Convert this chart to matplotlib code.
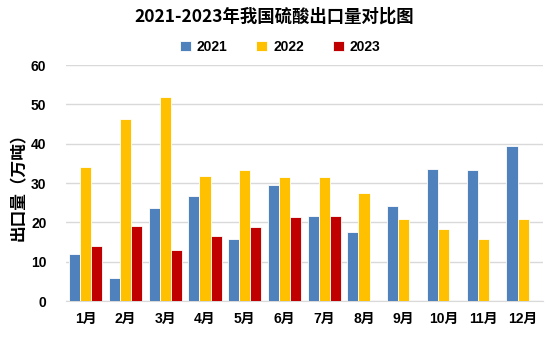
import matplotlib
matplotlib.use("Agg")
import matplotlib.pyplot as plt
import numpy as np

plt.rcParams['font.family'] = ['Liberation Sans', 'Noto Sans CJK SC', 'DejaVu Sans']

months = ["1月", "2月", "3月", "4月", "5月", "6月", "7月", "8月", "9月", "10月", "11月", "12月"]
s2021 = [12.0, 5.9, 23.6, 26.7, 15.8, 29.5, 21.6, 17.5, 24.2, 33.6, 33.3, 39.4]
s2022 = [34.1, 46.3, 51.9, 31.8, 33.3, 31.5, 31.5, 27.5, 20.8, 18.3, 15.8, 20.8]
s2023 = [14.0, 19.1, 13.0, 16.5, 18.8, 21.4, 21.6, np.nan, np.nan, np.nan, np.nan, np.nan]
series_names = ["2021", "2022", "2023"]
colors = ["#4F81BD", "#FFC000", "#C00000"]

fig = plt.figure(figsize=(5.49, 3.39), dpi=100)
ax = fig.add_axes([0.120, 0.112, 0.869, 0.696])

x = np.arange(len(months))
w = 0.28
for i, (vals, name, c) in enumerate(zip([s2021, s2022, s2023], series_names, colors)):
    ax.bar(x + (i - 1) * w, vals, width=w, color=c, edgecolor='white', linewidth=0.6, label=name, zorder=3)

ax.set_xlim(-0.5, len(months) - 0.5)
ax.set_ylim(0, 60)
ax.set_yticks(range(0, 61, 10))
ax.set_xticks(x)
ax.set_xticklabels(months)
ax.grid(axis='y', color='#D9D9D9', linewidth=1, zorder=0)
for sp in ['top', 'right', 'left']:
    ax.spines[sp].set_visible(False)
ax.spines['bottom'].set_color('#D9D9D9')
ax.tick_params(axis='both', length=0, labelsize=10)
ax.tick_params(axis='x', pad=8)
ax.tick_params(axis='y', pad=14)
for lbl in ax.get_xticklabels() + ax.get_yticklabels():
    lbl.set_fontweight('bold')

ax.set_ylabel("出口量（万吨）", fontsize=12, fontweight='bold', labelpad=2,
              family=['Noto Sans CJK SC', 'DejaVu Sans'])

fig.suptitle("2021-2023年我国硫酸出口量对比图", x=0.5, y=0.978, fontsize=12.5, fontweight='bold',
             family=['Noto Sans CJK SC', 'DejaVu Sans'])
leg = fig.legend(loc='center', bbox_to_anchor=(0.51, 0.862), ncol=3, frameon=False,
                 prop={'weight': 'bold', 'size': 10}, handlelength=0.8, handleheight=0.8,
                 columnspacing=2.1, handletextpad=0.4)

fig.savefig("out.png", dpi=100)
